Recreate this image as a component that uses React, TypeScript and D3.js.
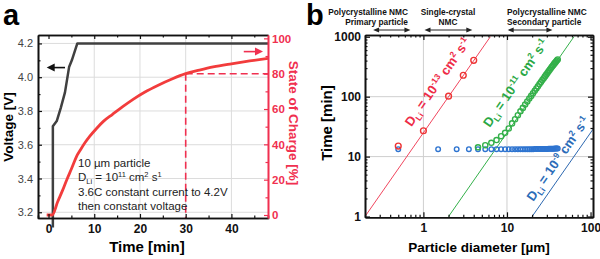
import * as d3 from 'd3';
import React, { useEffect, useRef } from 'react';

// ---- panel a: charging curve of a 10 um particle ----
const voltageTime = [0.95, 0.95, 1.8, 2.7, 3.6, 4.5, 5.1, 6.3, 48];
const voltageValue = [3.11, 3.71, 3.74, 3.82, 3.91, 4.06, 4.1, 4.2, 4.2];
const socTime = [-0.4, 0.8, 2, 3, 4, 5, 6.3, 7, 8, 9, 10.5, 12, 14, 16.3, 18.5, 21, 24, 27, 30, 33, 36, 40, 44, 48];
const socValue = [0, 0, 7.5, 13.5, 20, 26, 34, 37, 41, 44.5, 49, 53, 57, 61.5, 65.5, 69.5, 73.5, 77, 80, 82, 83.8, 85.6, 87.2, 88.7];
const cutoffTime = 30;
const cutoffSoc = 80;
const timeTicks = [0, 10, 20, 30, 40];
const timeMinor = [5, 15, 25, 35, 45];
const voltageTicks = [3.2, 3.4, 3.6, 3.8, 4.0, 4.2];
const voltageMinor = [3.3, 3.5, 3.7, 3.9, 4.1];
const socTicks = [0, 20, 40, 60, 80, 100];
const socMinor = [10, 30, 50, 70, 90];

// ---- panel b: time to charge vs particle diameter ----
const redDiameter = [0.5, 1, 2, 3, 4];
const redTime = [15, 27, 102, 228, 405];
const greenDiameter = [4.5, 5.5, 6.5, 7.5, 8.5, 9.5, 10.5, 11.5, 12.5, 13.5, 14.5, 15.5, 16.5, 17.5, 18.5, 19.5, 20.5, 21.5, 22.5, 23.5, 24.5, 25.5, 26.5, 27.5, 28.5, 29.5, 30.5, 31.5, 32.5, 33.5, 34.5, 35.5, 36.5, 37.5, 38.5, 39.5, 40.5];
const greenTime = [14.3, 15.5, 17, 18.9, 21.9, 24.9, 29.5, 35.8, 42, 49, 57, 65, 74, 83, 93, 103, 114, 125, 137, 149, 162, 175, 189, 203, 218, 233, 249, 265, 281, 298, 315, 332, 349, 366, 383, 400, 417];
const blueDiameter = [0.5, 1.5, 2.5, 3.5, 4.5, 5.5, 6.5, 7.5, 8.5, 9.5, 10.5, 11.5, 12.5, 13.5, 14.5, 15.5, 16.5, 17.5, 18.5, 19.5, 20.5, 21.5, 22.5, 23.5, 24.5, 25.5, 26.5, 27.5, 28.5, 29.5, 30.5, 31.5, 32.5, 33.5, 34.5, 35.5, 36.5, 37.5, 38.5, 39.5, 40.5];
const blueTime = [13.3, 13.3, 13.3, 13.3, 13.3, 13.3, 13.3, 13.3, 13.3, 13.3, 13.3, 13.3, 13.3, 13.3, 13.3, 13.3, 13.3, 13.3, 13.3, 13.3, 13.3, 13.4, 13.4, 13.4, 13.4, 13.4, 13.4, 13.4, 13.4, 13.4, 13.4, 13.5, 13.5, 13.5, 13.5, 13.5, 13.5, 13.6, 13.6, 13.6, 13.7];
// diffusion-limited fits (t ~ d^2)
const redFitDiameter = [0.2, 6.32];
const redFitTime = [1, 1000];
const greenFitDiameter = [2, 63.2];
const greenFitTime = [1, 1000];
const blueFitDiameter = [20, 107];
const blueFitTime = [1, 28.6];
const diamTicks = [1, 10, 100];
const diamMinor = [0.2, 0.3, 0.4, 0.5, 0.6, 0.7, 0.8, 0.9, 2, 3, 4, 5, 6, 7, 8, 9, 20, 30, 40, 50, 60, 70, 80, 90];
const timeLogTicks = [1, 10, 100, 1000];
const timeLogMinor = [2, 3, 4, 5, 6, 7, 8, 9, 20, 30, 40, 50, 60, 70, 80, 90, 200, 300, 400, 500, 600, 700, 800, 900];
const rangeFrom = [0.25, 1.03, 10.2];
const rangeTo = [0.7, 3.85, 35];

const FONT = '"Liberation Sans", Arial, Helvetica, sans-serif';
const RED = '#f23c3c';
const RED_AXIS = '#f03050';
const GREEN = '#34b04a';
const BLUE = '#2e74d0';

type Part = [string, 'base' | 'sub' | 'sup'];

function rich(sel: any, parts: Part[], size: number) {
  let shift = 0;
  parts.forEach(([s, kind]) => {
    const target = kind === 'sup' ? -0.38 * size : kind === 'sub' ? 0.28 * size : 0;
    sel.append('tspan')
      .attr('dy', target - shift)
      .attr('font-size', kind === 'base' ? size : size * 0.65)
      .text(s);
    shift = target;
  });
}

function styleAxis(g: any, color: string, fontSize: number, weight: string) {
  g.select('.domain').attr('stroke', color).attr('stroke-width', 1.6);
  g.selectAll('.tick line').attr('stroke', color).attr('stroke-width', 1.2);
  g.selectAll('.tick text')
    .attr('fill', color === RED_AXIS ? RED_AXIS : '#111')
    .attr('font-family', FONT)
    .attr('font-size', fontSize)
    .attr('font-weight', weight);
}

const App: React.FC = () => {
  const svgRef = useRef<SVGSVGElement>(null);

  useEffect(() => {
    if (!svgRef.current) return;
    const svg = d3.select(svgRef.current);
    svg.selectAll('*').remove();

    // ================= panel a =================
    const ax = d3.scaleLinear().domain([-2.3, 48]).range([38, 268]);
    const ayV = d3.scaleLinear().domain([3.166, 4.25]).range([218, 35]);
    const ayS = d3.scaleLinear().domain([-1.7, 101.9]).range([218, 35]);

    const a = svg.append('g');

    // grid
    a.append('g').selectAll('line').data(timeTicks.slice(1)).join('line')
      .attr('x1', d => ax(d)).attr('x2', d => ax(d)).attr('y1', 35).attr('y2', 218)
      .attr('stroke', '#dcdcdc').attr('stroke-width', 1);
    a.append('g').selectAll('line').data(voltageTicks).join('line')
      .attr('x1', 38).attr('x2', 268).attr('y1', d => ayV(d)).attr('y2', d => ayV(d))
      .attr('stroke', '#dcdcdc').attr('stroke-width', 1);

    // cutoff dashed lines
    a.append('line')
      .attr('x1', ax(cutoffTime)).attr('x2', ax(cutoffTime))
      .attr('y1', ayS(cutoffSoc)).attr('y2', 218)
      .attr('stroke', RED_AXIS).attr('stroke-width', 1.6).attr('stroke-dasharray', '7,4');
    a.append('line')
      .attr('x1', ax(cutoffTime)).attr('x2', 268)
      .attr('y1', ayS(cutoffSoc)).attr('y2', ayS(cutoffSoc))
      .attr('stroke', RED_AXIS).attr('stroke-width', 1.6).attr('stroke-dasharray', '7,4');

    // curves
    const vLine = d3.line<number>().x((d, i) => ax(voltageTime[i])).y(d => ayV(d));
    a.append('path').datum(voltageValue)
      .attr('fill', 'none').attr('stroke', '#404040').attr('stroke-width', 2.5)
      .attr('stroke-linejoin', 'round').attr('d', vLine);

    const sLine = d3.line<number>().x((d, i) => ax(socTime[i])).y(d => ayS(d)).curve(d3.curveMonotoneX);
    a.append('path').datum(socValue)
      .attr('fill', 'none').attr('stroke', RED).attr('stroke-width', 2.8)
      .attr('d', sLine);

    // axes
    a.append('g').attr('transform', 'translate(0,218)')
      .call(d3.axisBottom(ax).tickValues(timeTicks).tickSize(-4).tickSizeOuter(0).tickPadding(6))
      .call((g: any) => styleAxis(g, '#111', 12, 'bold'));
    a.append('g').attr('transform', 'translate(0,218)')
      .call(d3.axisBottom(ax).tickValues(timeMinor).tickSize(-2.5).tickFormat(() => ''))
      .call((g: any) => styleAxis(g, '#111', 12, 'bold'));
    a.append('g').attr('transform', 'translate(0,35)')
      .call(d3.axisTop(ax).tickValues(timeTicks).tickSize(-4).tickSizeOuter(0).tickFormat(() => ''))
      .call((g: any) => styleAxis(g, '#111', 12, 'bold'));
    a.append('g').attr('transform', 'translate(0,35)')
      .call(d3.axisTop(ax).tickValues(timeMinor).tickSize(-2.5).tickSizeOuter(0).tickFormat(() => ''))
      .call((g: any) => styleAxis(g, '#111', 12, 'bold'));
    a.append('g').attr('transform', 'translate(38,0)')
      .call(d3.axisLeft(ayV).tickValues(voltageTicks).tickSize(-4).tickSizeOuter(0).tickPadding(5).tickFormat(d3.format('.1f')))
      .call((g: any) => styleAxis(g, '#111', 11, 'normal'))
      .call((g: any) => g.selectAll('.tick text').attr('fill', '#444'));
    a.append('g').attr('transform', 'translate(38,0)')
      .call(d3.axisLeft(ayV).tickValues(voltageMinor).tickSize(-2.5).tickSizeOuter(0).tickFormat(() => ''))
      .call((g: any) => styleAxis(g, '#111', 11, 'normal'));
    a.append('g').attr('transform', 'translate(268,0)')
      .call(d3.axisRight(ayS).tickValues(socTicks).tickSize(-4).tickSizeOuter(0).tickPadding(4))
      .call((g: any) => styleAxis(g, RED_AXIS, 11.5, 'bold'));
    a.append('g').attr('transform', 'translate(268,0)')
      .call(d3.axisRight(ayS).tickValues(socMinor).tickSize(-2.5).tickSizeOuter(0).tickFormat(() => ''))
      .call((g: any) => styleAxis(g, RED_AXIS, 11.5, 'bold'));

    // direction arrows
    const arrow = (x1: number, x2: number, y: number, color: string) => {
      const dir = Math.sign(x2 - x1);
      a.append('line').attr('x1', x1).attr('x2', x2 - dir * 6).attr('y1', y).attr('y2', y)
        .attr('stroke', color).attr('stroke-width', 1.6);
      a.append('path')
        .attr('d', `M${x2},${y} L${x2 - dir * 8},${y - 4} L${x2 - dir * 8},${y + 4} Z`)
        .attr('fill', color);
    };
    arrow(ax(3.6), ax(-0.4), ayV(4.057), '#111');
    arrow(ax(42.7), ax(46.9), ayS(92.5), RED_AXIS);

    // note
    const note = a.append('g').attr('font-family', FONT).attr('fill', '#222').attr('font-size', 11.5);
    note.append('text').attr('x', 78).attr('y', 167).text('10 µm particle');
    const n2 = note.append('text').attr('x', 78).attr('y', 181).style('white-space', 'pre');
    rich(n2, [['D', 'base'], ['Li', 'sub'], [' = 10', 'base'], ['11', 'sup'], [' cm', 'base'], ['2', 'sup'], [' s', 'base'], ['1', 'sup']], 11.5);
    note.append('text').attr('x', 78).attr('y', 195.5).text('3.6C constant current to 4.2V');
    note.append('text').attr('x', 78).attr('y', 209.5).text('then constant voltage');

    // labels
    svg.append('text').attr('x', 3).attr('y', 25).attr('font-family', FONT)
      .attr('font-size', 29).attr('font-weight', 'bold').text('a');
    svg.append('text').attr('transform', 'translate(13,127) rotate(-90)').attr('text-anchor', 'middle')
      .attr('font-family', FONT).attr('font-size', 13.5).attr('font-weight', 'bold').text('Voltage [V]');
    svg.append('text').attr('x', 147).attr('y', 252).attr('text-anchor', 'middle')
      .attr('font-family', FONT).attr('font-size', 15).attr('font-weight', 'bold').text('Time [min]');
    svg.append('text').attr('transform', 'translate(289,123) rotate(90)').attr('text-anchor', 'middle')
      .attr('font-family', FONT).attr('font-size', 13.5).attr('font-weight', 'bold').attr('fill', RED_AXIS)
      .text('State of Charge [%]');

    // ================= panel b =================
    const bx = d3.scaleLog().domain([0.2, 107]).range([365, 593]);
    const by = d3.scaleLog().domain([0.97, 1070]).range([217.3, 35]);
    const b = svg.append('g');

    b.append('defs').append('clipPath').attr('id', 'clipB')
      .append('rect').attr('x', 365).attr('y', 35).attr('width', 228).attr('height', 182.3);

    b.append('g').selectAll('line').data([1, 10]).join('line')
      .attr('x1', d => bx(d)).attr('x2', d => bx(d)).attr('y1', 35).attr('y2', 217.3)
      .attr('stroke', '#cfcfcf').attr('stroke-width', 1);
    b.append('g').selectAll('line').data([10, 100]).join('line')
      .attr('x1', 365).attr('x2', 593).attr('y1', d => by(d)).attr('y2', d => by(d))
      .attr('stroke', '#cfcfcf').attr('stroke-width', 1);

    const fits: [number[], number[], string][] = [
      [redFitDiameter, redFitTime, '#f0465e'],
      [greenFitDiameter, greenFitTime, GREEN],
      [blueFitDiameter, blueFitTime, '#2d68b0'],
    ];
    const plot = b.append('g').attr('clip-path', 'url(#clipB)');
    fits.forEach(([ds, ts, color]) => {
      const ln = d3.line<number>().x(d => bx(d)).y((d, i) => by(ts[i]));
      plot.append('path').datum(ds).attr('fill', 'none').attr('stroke', color)
        .attr('stroke-width', 1).attr('d', ln);
    });

    const dots = (ds: number[], ts: number[], color: string, r: number) => {
      plot.append('g').selectAll('circle').data(ds).join('circle')
        .attr('cx', d => bx(d)).attr('cy', (d, i) => by(ts[i])).attr('r', r)
        .attr('fill', 'none').attr('stroke', color).attr('stroke-width', 1.4);
    };
    dots(blueDiameter, blueTime, BLUE, 2.3);
    dots(greenDiameter, greenTime, GREEN, 2.6);
    dots(redDiameter, redTime, '#ee3434', 2.9);

    // axes
    b.append('g').attr('transform', 'translate(0,217.3)')
      .call(d3.axisBottom(bx).tickValues(diamTicks).tickSize(-5).tickSizeOuter(0).tickPadding(6).tickFormat(d3.format('d')))
      .call((g: any) => styleAxis(g, '#111', 12, 'bold'));
    b.append('g').attr('transform', 'translate(0,217.3)')
      .call(d3.axisBottom(bx).tickValues(diamMinor).tickSize(-2.5).tickSizeOuter(0).tickFormat(() => ''))
      .call((g: any) => styleAxis(g, '#111', 12, 'bold'));
    b.append('g').attr('transform', 'translate(0,35)')
      .call(d3.axisTop(bx).tickValues(diamTicks).tickSize(-5).tickSizeOuter(0).tickFormat(() => ''))
      .call((g: any) => styleAxis(g, '#111', 12, 'bold'));
    b.append('g').attr('transform', 'translate(0,35)')
      .call(d3.axisTop(bx).tickValues(diamMinor).tickSize(-2.5).tickSizeOuter(0).tickFormat(() => ''))
      .call((g: any) => styleAxis(g, '#111', 12, 'bold'));
    b.append('g').attr('transform', 'translate(365,0)')
      .call(d3.axisLeft(by).tickValues(timeLogTicks).tickSize(-5).tickSizeOuter(0).tickPadding(4).tickFormat(d3.format('d')))
      .call((g: any) => styleAxis(g, '#111', 12, 'bold'));
    b.append('g').attr('transform', 'translate(365,0)')
      .call(d3.axisLeft(by).tickValues(timeLogMinor).tickSize(-2.5).tickSizeOuter(0).tickFormat(() => ''))
      .call((g: any) => styleAxis(g, '#111', 12, 'bold'));
    b.append('g').attr('transform', 'translate(593,0)')
      .call(d3.axisRight(by).tickValues(timeLogTicks).tickSize(-5).tickSizeOuter(0).tickFormat(() => ''))
      .call((g: any) => styleAxis(g, '#111', 12, 'bold'));
    b.append('g').attr('transform', 'translate(593,0)')
      .call(d3.axisRight(by).tickValues(timeLogMinor).tickSize(-2.5).tickSizeOuter(0).tickFormat(() => ''))
      .call((g: any) => styleAxis(g, '#111', 12, 'bold'));

    // rotated diffusivity labels, parallel to the fit lines
    const angle = Math.atan2(by(1000) - by(1), bx(6.32) - bx(0.2)) * 180 / Math.PI;
    const diffLabel = (d: number, t: number, exp: string, color: string) => {
      const txt = b.append('text')
        .attr('transform', `translate(${bx(d)},${by(t)}) rotate(${angle})`)
        .attr('font-family', FONT).attr('font-weight', 'bold').attr('fill', color)
        .style('white-space', 'pre');
      rich(txt, [['D', 'base'], ['Li', 'sub'], [' = 10', 'base'], [exp, 'sup'], [' cm', 'base'], ['2', 'sup'], [' s', 'base'], ['-1', 'sup']], 13);
    };
    diffLabel(0.72, 31, '-13', '#ee2c48');
    diffLabel(6.2, 30, '-11', '#2aa845');
    diffLabel(20.6, 1.75, '-9', '#2b6cb8');

    // size ranges
    const ranges = b.append('g');
    rangeFrom.forEach((d0, i) => {
      const x1 = bx(d0), x2 = bx(rangeTo[i]), y = 30;
      ranges.append('line').attr('x1', x1 + 4).attr('x2', x2 - 4).attr('y1', y).attr('y2', y)
        .attr('stroke', '#222').attr('stroke-width', 1);
      ranges.append('path').attr('d', `M${x1},${y} L${x1 + 6},${y - 2.5} L${x1 + 6},${y + 2.5} Z`).attr('fill', '#222');
      ranges.append('path').attr('d', `M${x2},${y} L${x2 - 6},${y - 2.5} L${x2 - 6},${y + 2.5} Z`).attr('fill', '#222');
    });
    const cap = (x: number, y: number, anchor: string, s: string) =>
      b.append('text').attr('x', x).attr('y', y).attr('text-anchor', anchor)
        .attr('font-family', FONT).attr('font-size', 8.3).attr('font-weight', 'bold').attr('fill', '#111').text(s);
    cap(408, 15, 'end', 'Polycrystalline NMC');
    cap(408, 25, 'end', 'Primary particle');
    cap(448, 15, 'middle', 'Single-crystal');
    cap(448, 25, 'middle', 'NMC');
    cap(507, 15, 'start', 'Polycrystalline NMC');
    cap(507, 25, 'start', 'Secondary particle');

    svg.append('text').attr('x', 306).attr('y', 25).attr('font-family', FONT)
      .attr('font-size', 29).attr('font-weight', 'bold').text('b');
    svg.append('text').attr('transform', 'translate(332,123) rotate(-90)').attr('text-anchor', 'middle')
      .attr('font-family', FONT).attr('font-size', 15).attr('font-weight', 'bold').text('Time [min]');
    svg.append('text').attr('x', 479).attr('y', 252).attr('text-anchor', 'middle')
      .attr('font-family', FONT).attr('font-size', 13.5).attr('font-weight', 'bold').text('Particle diameter [µm]');
  }, []);

  return (
    <svg ref={svgRef} width={600} height={259}
      style={{ position: 'absolute', left: 0, top: 0, background: '#fff' }} />
  );
};

export default App;
